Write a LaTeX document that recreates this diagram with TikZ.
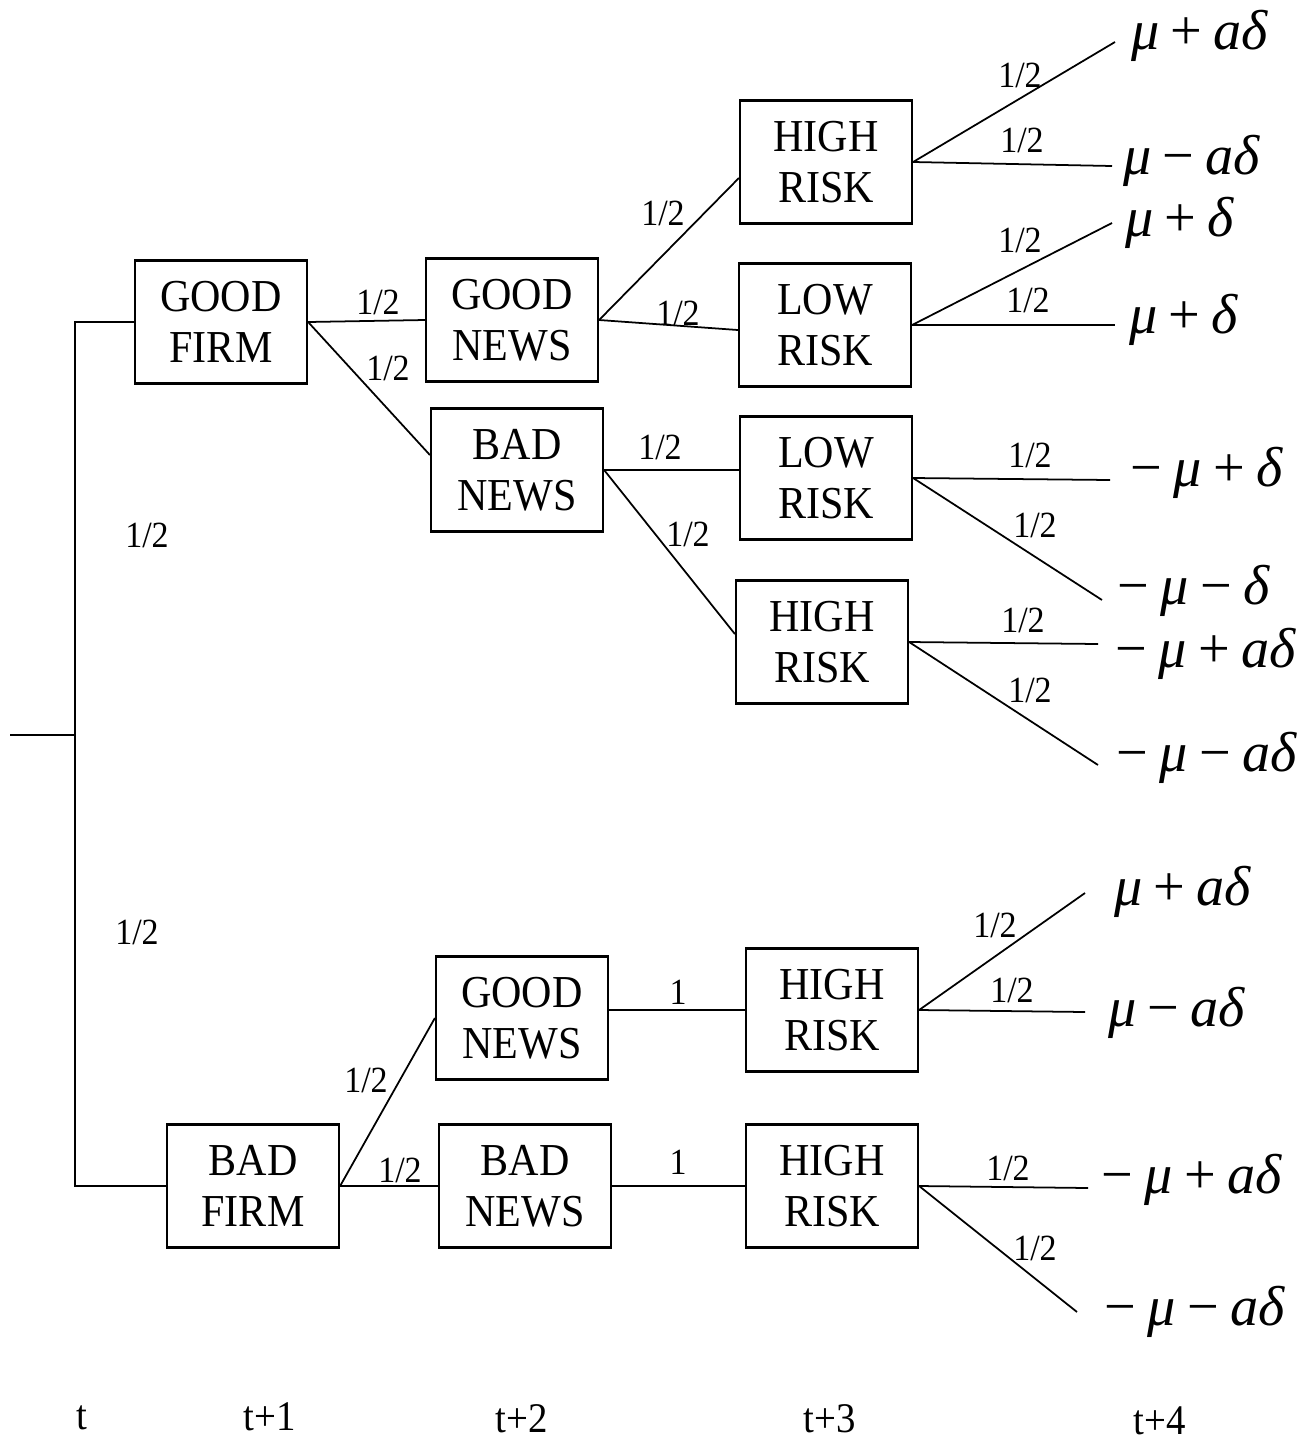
\documentclass[tikz,border=0pt]{standalone}
\usepackage{fontspec}
\setmainfont{Liberation Serif}[FakeStretch=0.92]
\newfontfamily\outfont{Liberation Serif}
\usepackage{tikz}
\usetikzlibrary{calc}
\newcommand{\plusop}{\hspace{0.2em}+\hspace{0.2em}}
\newcommand{\minusop}{\hspace{0.2em}−\hspace{0.2em}}
\newcommand{\negop}{−\hspace{0.2em}}
\newcommand{\outc}[1]{{\outfont\fontsize{16}{18}\selectfont #1}}

\begin{document}
\begin{tikzpicture}[x=0.01cm, y=-0.01cm,
    state/.style={draw, line width=0.6pt, minimum width=1.72cm, minimum height=1.23cm,
                  inner sep=0pt, align=center, font=\fontsize{13}{14.5}\selectfont},
    prob/.style={inner sep=0pt, font=\fontsize{10.5}{12}\selectfont},
    outcome/.style={inner sep=0pt},
    period/.style={inner sep=0pt, font=\fontsize{12}{14}\selectfont},
    every path/.style={line width=0.5pt}]

    \useasboundingbox (0,0) rectangle (1302,1442);

    % boxes
    \node[state] (gf) at (221,322) {GOOD\\FIRM};
    \node[state] (gn1) at (512,320) {GOOD\\NEWS};
    \node[state] (bn1) at (517,470) {BAD\\NEWS};
    \node[state] (hr1) at (826,162) {HIGH\\RISK};
    \node[state] (lr1) at (825,325) {LOW\\RISK};
    \node[state] (lr2) at (826,478) {LOW\\RISK};
    \node[state] (hr2) at (822,642) {HIGH\\RISK};
    \node[state] (bf) at (253,1186) {BAD\\FIRM};
    \node[state] (gn2) at (522,1018) {GOOD\\NEWS};
    \node[state] (bn2) at (525,1186) {BAD\\NEWS};
    \node[state] (hr3) at (832,1010) {HIGH\\RISK};
    \node[state] (hr4) at (832,1186) {HIGH\\RISK};

    % root
    \coordinate (root) at (10,735);
    \coordinate (fork) at (75,735);
    \draw (root) -- (fork);
    \draw (gf.west) -| (fork) |- (bf.west);

    % free ends of the last branches
    \coordinate (e1) at (1115,42);
    \coordinate (e2) at (1112,166);
    \coordinate (e3) at (1112,223);
    \coordinate (e4) at (1115,325);
    \coordinate (e5) at (1110,480);
    \coordinate (e6) at (1102,600);
    \coordinate (e7) at (1098,644);
    \coordinate (e8) at (1098,765);
    \coordinate (e9) at (1085,893);
    \coordinate (e10) at (1085,1012);
    \coordinate (e11) at (1088,1188);
    \coordinate (e12) at (1077,1312);

    % good firm
    \draw (gf.east) -- (gn1.west);
    \draw (gf.east) -- ([yshift=0.15cm]bn1.west);
    \draw (gn1.east) -- ([yshift=-0.16cm]hr1.west);
    \draw (gn1.east) -- ([yshift=-0.05cm]lr1.west);
    \draw (bn1.east) -- (bn1.east -| lr2.west);
    \draw (bn1.east) -- ([yshift=0.08cm]hr2.west);
    \draw (hr1.east) -- (e1);
    \draw (hr1.east) -- (e2);
    \draw (lr1.east) -- (e3);
    \draw (lr1.east) -- (e4);
    \draw (lr2.east) -- (e5);
    \draw (lr2.east) -- (e6);
    \draw (hr2.east) -- (e7);
    \draw (hr2.east) -- (e8);

    % bad firm
    \draw (bf.east) -- (gn2.west);
    \draw (bf.east) -- (bn2.west);
    \draw (hr3.west -| gn2.east) -- (hr3.west);
    \draw (bn2.east) -- (hr4.west);
    \draw (hr3.east) -- (e9);
    \draw (hr3.east) -- (e10);
    \draw (hr4.east) -- (e11);
    \draw (hr4.east) -- (e12);

    % probabilities
    \node[prob] (p1) at (147,535) {1/2};
    \node[prob] (p2) at (137,932) {1/2};
    \node[prob] (p3) at (378,302) {1/2};
    \node[prob] (p4) at (388,368) {1/2};
    \node[prob] (p5) at (663,213) {1/2};
    \node[prob] (p6) at (678,313) {1/2};
    \node[prob] (p7) at (660,447) {1/2};
    \node[prob] (p8) at (688,534) {1/2};
    \node[prob] (p9) at (1020,75) {1/2};
    \node[prob] (p10) at (1022,140) {1/2};
    \node[prob] (p11) at (1020,240) {1/2};
    \node[prob] (p12) at (1028,300) {1/2};
    \node[prob] (p13) at (1030,455) {1/2};
    \node[prob] (p14) at (1035,525) {1/2};
    \node[prob] (p15) at (1023,620) {1/2};
    \node[prob] (p16) at (1030,690) {1/2};
    \node[prob] (p17) at (366,1080) {1/2};
    \node[prob] (p18) at (400,1170) {1/2};
    \node[prob] (p19) at (678,992) {1};
    \node[prob] (p20) at (678,1162) {1};
    \node[prob] (p21) at (995,925) {1/2};
    \node[prob] (p22) at (1012,990) {1/2};
    \node[prob] (p23) at (1008,1168) {1/2};
    \node[prob] (p24) at (1035,1248) {1/2};

    % payoffs
    \node[outcome] (o1) at (1200,36) {\outc{\textit{μ}\plusop\textit{aδ}}};
    \node[outcome] (o2) at (1192,161) {\outc{\textit{μ}\minusop\textit{aδ}}};
    \node[outcome] (o3) at (1180,223) {\outc{\textit{μ}\plusop\textit{δ}}};
    \node[outcome] (o4) at (1184,320) {\outc{\textit{μ}\plusop\textit{δ}}};
    \node[outcome] (o5) at (1207,473) {\outc{\negop\textit{μ}\plusop\textit{δ}}};
    \node[outcome] (o6) at (1194,591) {\outc{\negop\textit{μ}\minusop\textit{δ}}};
    \node[outcome] (o7) at (1206,654) {\outc{\negop\textit{μ}\plusop\textit{aδ}}};
    \node[outcome] (o8) at (1207,758) {\outc{\negop\textit{μ}\minusop\textit{aδ}}};
    \node[outcome] (o9) at (1183,892) {\outc{\textit{μ}\plusop\textit{aδ}}};
    \node[outcome] (o10) at (1177,1013) {\outc{\textit{μ}\minusop\textit{aδ}}};
    \node[outcome] (o11) at (1192,1180) {\outc{\negop\textit{μ}\plusop\textit{aδ}}};
    \node[outcome] (o12) at (1195,1312) {\outc{\negop\textit{μ}\minusop\textit{aδ}}};

    % time axis
    \node[period] (t0) at (82,1418) {t};
    \node[period] (t1) at (270,1417) {t+1};
    \node[period] (t2) at (522,1419) {t+2};
    \node[period] (t3) at (830,1419) {t+3};
    \node[period] (t4) at (1160,1421) {t+4};

\end{tikzpicture}
\end{document}
